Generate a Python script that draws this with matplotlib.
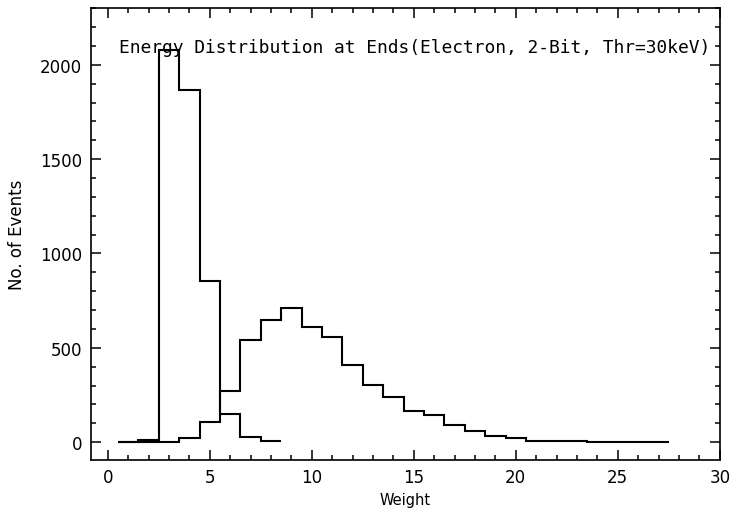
"""
Energy distribution at the ends, two weight histograms drawn as steps.
"""

import numpy as np
import matplotlib.pyplot as plt
from matplotlib.ticker import MultipleLocator

# bin centres are integers, edges at the half-integers
edges_a = np.arange(0.5, 9.0, 1.0)
counts_a = [0, 10, 2080, 1865, 852, 150, 28, 6]

edges_b = np.arange(0.5, 28.0, 1.0)
counts_b = [0, 2, 2, 20, 105, 271, 541, 645, 712, 610, 557, 407, 305, 240,
            166, 145, 93, 58, 32, 20, 7, 5, 4, 3, 2, 1, 1]

title = "Energy Distribution at Ends(Electron, 2-Bit, Thr=30keV)"

fig = plt.figure(figsize=(7.3, 5.1), dpi=100)
ax = fig.add_axes([0.124, 0.096, 0.862, 0.886])

ax.stairs(counts_a, edges_a, baseline=None, color="black", linewidth=1.5)
ax.stairs(counts_b, edges_b, baseline=None, color="black", linewidth=1.5)

ax.set_xlim(-0.85, 30)
ax.set_ylim(-95, 2300)

ax.xaxis.set_major_locator(MultipleLocator(5))
ax.xaxis.set_minor_locator(MultipleLocator(1))
ax.yaxis.set_major_locator(MultipleLocator(500))
ax.yaxis.set_minor_locator(MultipleLocator(100))
ax.tick_params(which="both", direction="in", top=True, right=True,
               labelsize=12, width=1.1)
ax.tick_params(which="major", length=7, pad=6)
ax.tick_params(which="minor", length=3.5)
for s in ax.spines.values():
    s.set_linewidth(1.2)

# title sits inside the frame, wide letter spacing like the plotter font
ax.text(0.57, 2095, title, fontsize=12.9, family="DejaVu Sans Mono",
        va="center", ha="left")

ax.set_xlabel("Weight", fontsize=10.5, labelpad=4)
ax.set_ylabel("No. of Events", fontsize=12, labelpad=10)

plt.savefig("out.png", dpi=100)
